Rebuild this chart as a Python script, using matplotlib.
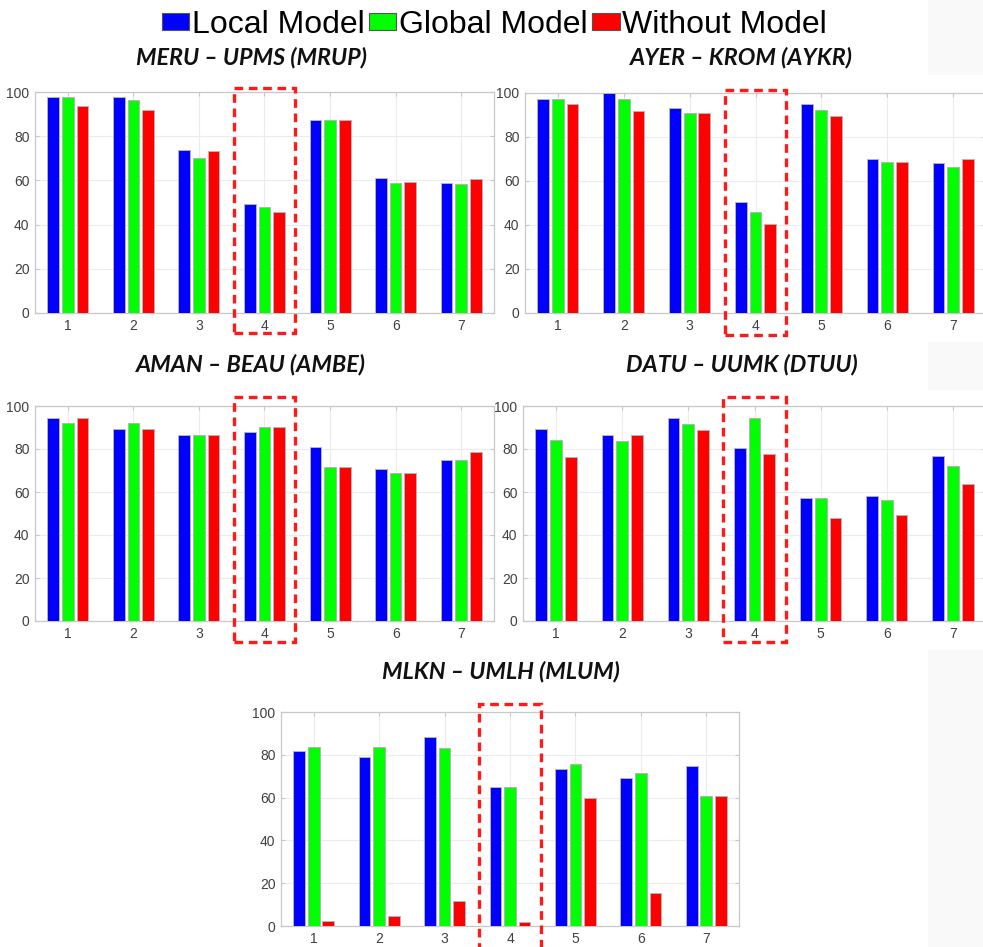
import matplotlib.pyplot as plt
from matplotlib.patches import Rectangle, Patch
from matplotlib.transforms import blended_transform_factory

# scenario index on the x axis
groups = [1, 2, 3, 4, 5, 6, 7]
series_names = ["Local Model", "Global Model", "Without Model"]
colors = ["#0000ff", "#00ff00", "#ff0000"]

mrup_local = [97.6, 97.6, 73.9, 49.1, 87.2, 61.0, 58.9]
mrup_global = [97.6, 96.4, 70.1, 47.9, 87.2, 58.6, 58.3]
mrup_without = [93.5, 92.0, 73.1, 45.8, 87.2, 59.4, 60.6]

aykr_local = [97.4, 100.0, 93.0, 50.6, 94.8, 70.0, 68.2]
aykr_global = [97.4, 97.4, 90.9, 45.8, 92.3, 68.6, 66.4]
aykr_without = [94.8, 91.8, 90.9, 40.6, 89.5, 68.6, 70.0]

ambe_local = [94.4, 89.2, 86.7, 87.8, 81.0, 70.7, 75.1]
ambe_global = [92.0, 92.0, 86.7, 90.2, 71.4, 68.7, 75.1]
ambe_without = [94.4, 89.2, 86.7, 90.2, 71.4, 68.7, 78.8]

dtuu_local = [89.5, 86.6, 94.3, 80.5, 57.0, 58.3, 76.7]
dtuu_global = [84.4, 83.9, 91.7, 94.4, 57.0, 56.4, 72.3]
dtuu_without = [76.5, 86.6, 88.9, 77.9, 47.8, 49.1, 63.8]

mlum_local = [81.6, 79.1, 88.2, 65.0, 73.4, 69.2, 74.6]
mlum_global = [83.6, 83.6, 83.3, 65.0, 75.5, 71.3, 60.6]
mlum_without = [2.3, 4.5, 11.8, 1.7, 60.0, 15.4, 60.6]

highlight = 4

W, H = 983, 947
fig = plt.figure(figsize=(W / 100, H / 100), dpi=100)

# faint grey strips along the right edge
for y0, y1 in [(0, 75), (342, 390), (650, 947)]:
    fig.patches.append(Rectangle((928 / W, 1 - y1 / H), 55 / W, (y1 - y0) / H,
                                 transform=fig.transFigure, facecolor="#f9f9f9",
                                 edgecolor="none", zorder=0))

def px_axes(left, top, right, bottom):
    return fig.add_axes([left / W, 1 - bottom / H, (right - left) / W, (bottom - top) / H])

def panel(ax, local, glob, without, title, tx, ty, box_top, box_bottom):
    width = 0.178
    step = 0.223
    for k, vals in enumerate([local, glob, without]):
        xs = [g + (k - 1) * step for g in groups]
        ax.bar(xs, vals, width=width, color=colors[k], edgecolor="#b4b4b4",
               linewidth=0.7, zorder=3)
    ax.set_xlim(0.5, 7.5)
    ax.set_ylim(0, 100)
    ax.set_xticks(groups)
    ax.set_yticks(range(0, 101, 20))
    ax.grid(True, color="#ececec", linewidth=0.8, zorder=0)
    ax.set_axisbelow(True)
    for s in ax.spines.values():
        s.set_color("#c8c8c8")
        s.set_linewidth(0.9)
    ax.tick_params(direction="in", top=True, right=True, length=3,
                   color="#c8c8c8", labelcolor="#404040", labelsize=10,
                   labelfontfamily="Liberation Sans", pad=4)
    # dashed box around the highlighted scenario, in pixels above/below the axes
    bb = ax.get_position()
    ax_top = (1 - bb.y1) * H
    ax_bot = (1 - bb.y0) * H
    y_hi = 1 + (ax_top - box_top) / (ax_bot - ax_top)
    y_lo = -(box_bottom - ax_bot) / (ax_bot - ax_top)
    trans = blended_transform_factory(ax.transData, ax.transAxes)
    ax.add_patch(Rectangle((highlight - 0.47, y_lo), 0.94, y_hi - y_lo,
                           transform=trans, fill=False, edgecolor="#ff1a1a",
                           linewidth=2.4, linestyle=(0, (2.6, 1.7)),
                           clip_on=False, zorder=5))
    fig.text(tx / W, 1 - ty / H, title, ha="center", va="center", fontsize=16.8,
             fontweight="bold", style="italic", family="Lato", color="#111111")

ax1 = px_axes(35, 92, 494, 313)
ax2 = px_axes(525, 93, 986, 313)
ax3 = px_axes(35, 406, 494, 621)
ax4 = px_axes(523, 406, 986, 621)
ax5 = px_axes(281, 712, 739, 926)

panel(ax1, mrup_local, mrup_global, mrup_without, "MERU \u2013 UPMS (MRUP)", 251, 58, 88, 333)
panel(ax2, aykr_local, aykr_global, aykr_without, "AYER \u2013 KROM (AYKR)", 741, 58, 90, 335)
panel(ax3, ambe_local, ambe_global, ambe_without, "AMAN \u2013 BEAU (AMBE)", 251, 365, 397, 642)
panel(ax4, dtuu_local, dtuu_global, dtuu_without, "DATU \u2013 UUMK (DTUU)", 742, 365, 397, 642)
panel(ax5, mlum_local, mlum_global, mlum_without, "MLKN \u2013 UMLH (MLUM)", 501, 672, 704, 960)

handles = [Patch(facecolor=c, edgecolor="#555555", linewidth=0.8) for c in colors]
fig.legend(handles, series_names, loc="upper center", bbox_to_anchor=(0.503, 1.013),
           ncol=3, frameon=False, handlelength=0.85, handleheight=0.47,
           handletextpad=0.08, columnspacing=0.15, borderpad=0.2,
           prop={"family": "Liberation Sans", "size": 23})

fig.savefig("out.png", dpi=100)
